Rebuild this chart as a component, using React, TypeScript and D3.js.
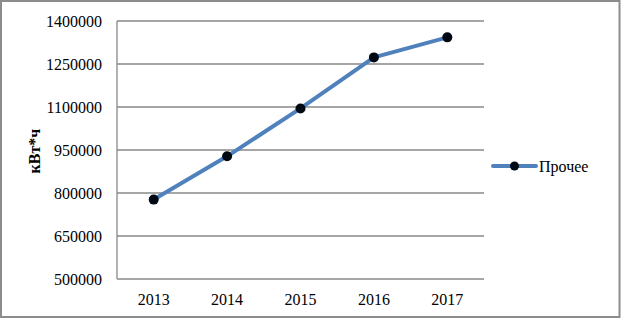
import React, { useEffect, useRef } from "react";
import * as d3 from "d3";

const years = ["2013", "2014", "2015", "2016", "2017"];
const values = [777000, 928000, 1095000, 1273000, 1343000];
const yTicks = [500000, 650000, 800000, 950000, 1100000, 1250000, 1400000];
const seriesName = "Прочее";
const yLabel = "кВт*ч";

const width = 621;
const height = 320;
const margin = { top: 21, right: 137, bottom: 41, left: 117 };

export default function App() {
  const svgRef = useRef<SVGSVGElement>(null);

  useEffect(() => {
    const svg = d3.select(svgRef.current);
    svg.selectAll("*").remove();

    const font = "'Liberation Serif', 'Times New Roman', serif";

    // Outer frame
    svg
      .append("rect")
      .attr("x", 1)
      .attr("y", 1)
      .attr("width", width - 2.5)
      .attr("height", height - 4)
      .attr("fill", "#fff")
      .attr("stroke", "#8c8c8c")
      .attr("stroke-width", 2);

    const x = d3
      .scaleBand()
      .domain(years)
      .range([margin.left, width - margin.right]);

    const y = d3
      .scaleLinear()
      .domain([500000, 1400000])
      .range([height - margin.bottom, margin.top]);

    // Gridlines
    svg
      .append("g")
      .selectAll("line")
      .data(yTicks)
      .enter()
      .append("line")
      .attr("x1", margin.left)
      .attr("x2", width - margin.right)
      .attr("y1", (d) => y(d))
      .attr("y2", (d) => y(d))
      .attr("stroke", "#888")
      .attr("stroke-width", 1.3);

    // Left axis line
    svg
      .append("line")
      .attr("x1", margin.left)
      .attr("x2", margin.left)
      .attr("y1", y(1400000))
      .attr("y2", y(500000))
      .attr("stroke", "#888")
      .attr("stroke-width", 1.3);

    // Y tick labels
    svg
      .append("g")
      .selectAll("text")
      .data(yTicks)
      .enter()
      .append("text")
      .attr("x", margin.left - 15)
      .attr("y", (d) => y(d))
      .attr("dy", "0.35em")
      .attr("text-anchor", "end")
      .attr("font-family", font)
      .attr("font-size", 16)
      .attr("fill", "#000")
      .text((d) => String(d));

    // X tick labels
    svg
      .append("g")
      .selectAll("text")
      .data(years)
      .enter()
      .append("text")
      .attr("x", (d) => x(d)! + x.bandwidth() / 2)
      .attr("y", height - margin.bottom + 20)
      .attr("dy", "0.35em")
      .attr("text-anchor", "middle")
      .attr("font-family", font)
      .attr("font-size", 16)
      .attr("fill", "#000")
      .text((d) => d);

    // Y axis title
    svg
      .append("text")
      .attr("transform", `translate(34, 151) rotate(-90)`)
      .attr("dy", "0.35em")
      .attr("text-anchor", "middle")
      .attr("font-family", font)
      .attr("font-size", 16)
      .attr("font-weight", "bold")
      .text(yLabel);

    const pts = years.map((yr, i) => ({ yr, v: values[i] }));

    const line = d3
      .line<{ yr: string; v: number }>()
      .x((d) => x(d.yr)! + x.bandwidth() / 2)
      .y((d) => y(d.v));

    svg
      .append("path")
      .datum(pts)
      .attr("d", line)
      .attr("fill", "none")
      .attr("stroke", "#4f81bd")
      .attr("stroke-width", 4)
      .attr("stroke-linejoin", "round");

    svg
      .append("g")
      .selectAll("circle")
      .data(pts)
      .enter()
      .append("circle")
      .attr("cx", (d) => x(d.yr)! + x.bandwidth() / 2)
      .attr("cy", (d) => y(d.v))
      .attr("r", 5)
      .attr("fill", "#000814");

    // Legend
    const lg = svg.append("g").attr("transform", "translate(493, 166)");
    lg.append("line")
      .attr("x1", 0)
      .attr("x2", 43)
      .attr("y1", 0)
      .attr("y2", 0)
      .attr("stroke", "#4f81bd")
      .attr("stroke-width", 4)
      .attr("stroke-linecap", "round");
    lg.append("circle").attr("cx", 21.5).attr("cy", 0).attr("r", 4.5).attr("fill", "#000814");
    lg.append("text")
      .attr("x", 46)
      .attr("y", 0)
      .attr("dy", "0.35em")
      .attr("font-family", font)
      .attr("font-size", 16)
      .text(seriesName);
  }, []);

  return (
    <svg
      ref={svgRef}
      width={width}
      height={height}
      style={{ position: "absolute", left: 0, top: 0, display: "block" }}
    />
  );
}
